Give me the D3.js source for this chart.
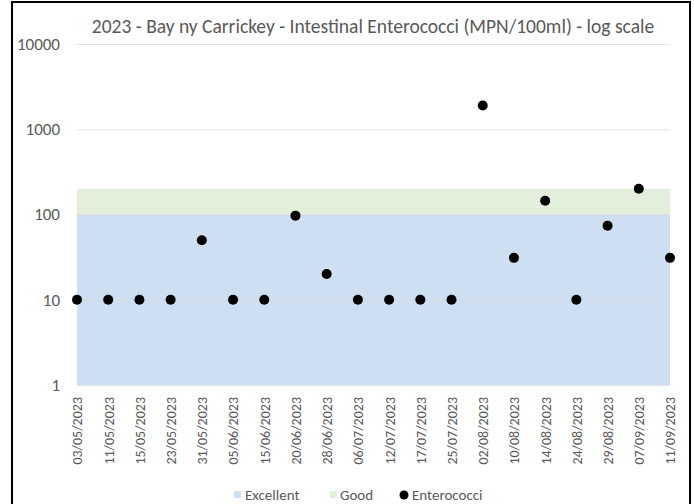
<!DOCTYPE html>
<html>
<head>
<meta charset="utf-8">
<script src="https://cdn.jsdelivr.net/npm/d3@7"></script>
<style>
  body { margin: 0; background: #fff; }
  svg text { font-family: Carlito, Calibri, "Open Sans", sans-serif; fill: #595959; }
</style>
</head>
<body>
<div id="chart"></div>
<script>
// sample dates and results
const dates = ["03/05/2023", "11/05/2023", "15/05/2023", "23/05/2023", "31/05/2023", "05/06/2023",
  "15/06/2023", "20/06/2023", "28/06/2023", "06/07/2023", "12/07/2023", "17/07/2023", "25/07/2023",
  "02/08/2023", "10/08/2023", "14/08/2023", "24/08/2023", "29/08/2023", "07/09/2023", "11/09/2023"];
const enterococci = [10, 10, 10, 10, 50, 10, 10, 97, 20, 10, 10, 10, 10, 1900, 31, 145, 10, 74, 200, 31];
// classification bands (upper limits)
const excellentLimit = 100;
const goodLimit = 200;
const yTicks = [1, 10, 100, 1000, 10000];

const W = 694, H = 504;
const margin = { top: 44, right: 24, bottom: 119, left: 77 };
const width = 670 - margin.left;
const height = 385 - margin.top;

const svg = d3.select("#chart").append("svg")
    .attr("width", W).attr("height", H);

// outer border
svg.append("rect")
    .attr("x", 12).attr("y", 2)
    .attr("width", 678).attr("height", 510)
    .attr("fill", "none").attr("stroke", "#000").attr("stroke-width", 2);

const g = svg.append("g").attr("transform", `translate(${margin.left},${margin.top})`);

const x = d3.scalePoint().domain(dates).range([0, width]);
const y = d3.scaleLog().domain([1, 10000]).range([height, 0]);

// bands
g.append("rect")
    .attr("x", 0).attr("width", width)
    .attr("y", y(goodLimit)).attr("height", y(excellentLimit) - y(goodLimit))
    .attr("fill", "#e2efda");
g.append("rect")
    .attr("x", 0).attr("width", width)
    .attr("y", y(excellentLimit)).attr("height", y(1) - y(excellentLimit))
    .attr("fill", "#cddff0");

// gridlines
g.append("g")
    .call(d3.axisLeft(y).tickValues(yTicks).tickSize(-width).tickFormat(""))
    .call(s => s.select(".domain").remove())
    .call(s => s.selectAll("line").attr("stroke", "#d9d9d9").attr("stroke-opacity", 0.7));

// y axis labels
g.append("g")
    .call(d3.axisLeft(y).tickValues(yTicks).tickSize(0).tickPadding(17).tickFormat(d3.format("d")))
    .call(s => s.select(".domain").remove())
    .selectAll("text").style("font-size", "17px").attr("fill", "#595959");

// x axis labels
g.append("g")
    .attr("transform", `translate(0,${height})`)
    .call(d3.axisBottom(x).tickSize(0))
    .call(s => s.select(".domain").remove())
    .selectAll("text")
    .style("font-size", "14px")
    .attr("fill", "#595959")
    .attr("transform", "rotate(-90)")
    .attr("x", -12).attr("y", 0).attr("dy", "0.35em")
    .style("text-anchor", "end");

// points
g.selectAll(".dot")
    .data(enterococci)
    .join("circle")
    .attr("class", "dot")
    .attr("cx", (d, i) => x(dates[i]))
    .attr("cy", d => y(d))
    .attr("r", 5)
    .attr("fill", "#000");

// title
svg.append("text")
    .attr("x", 373).attr("y", 33)
    .attr("text-anchor", "middle")
    .style("font-size", "19.5px")
    .text("2023 - Bay ny Carrickey - Intestinal Enterococci (MPN/100ml) - log scale");

// legend
const legend = svg.append("g").attr("transform", "translate(0,495)");
legend.append("rect").attr("x", 234).attr("y", -4).attr("width", 7).attr("height", 7).attr("fill", "#cddff0");
legend.append("text").attr("x", 245).attr("y", 0).attr("dy", "0.35em").style("font-size", "15px").text("Excellent");
legend.append("rect").attr("x", 330).attr("y", -4).attr("width", 7).attr("height", 7).attr("fill", "#e2efda");
legend.append("text").attr("x", 340).attr("y", 0).attr("dy", "0.35em").style("font-size", "15px").text("Good");
legend.append("circle").attr("cx", 404).attr("cy", 0).attr("r", 4.5).attr("fill", "#000");
legend.append("text").attr("x", 412).attr("y", 0).attr("dy", "0.35em").style("font-size", "15px").text("Enterococci");
</script>
</body>
</html>
